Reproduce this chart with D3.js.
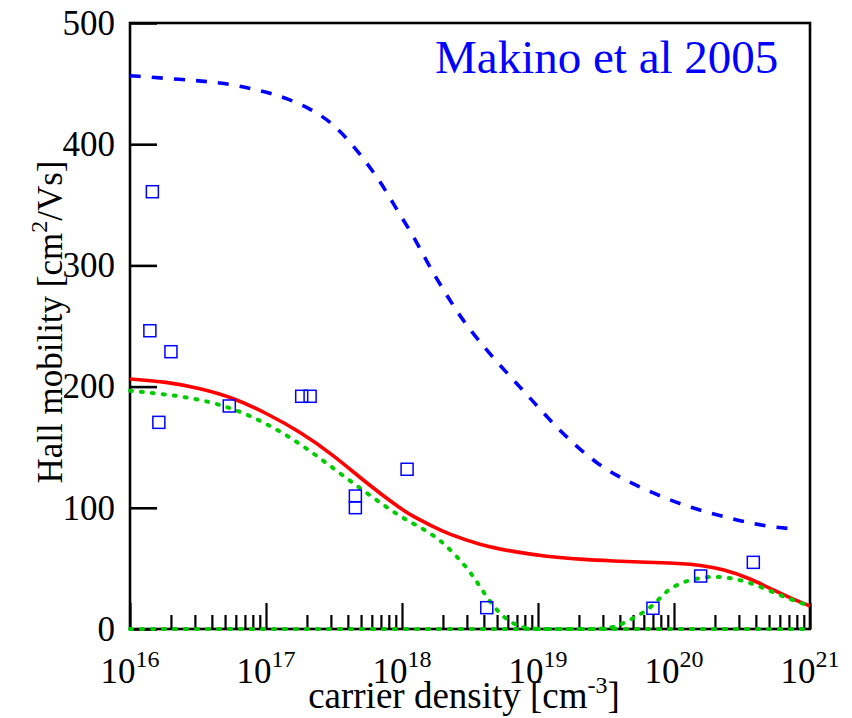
<!DOCTYPE html>
<html>
<head>
<meta charset="utf-8">
<script src="https://cdn.jsdelivr.net/npm/d3@7"></script>
<style>
  body { margin: 0; background: #fff; }
  svg text { font-family: "Liberation Serif", "Times New Roman", serif; }
</style>
</head>
<body>
<svg id="chart" width="852" height="718"></svg>
<script>
// carrier density (cm^-3) and Hall mobility (cm^2/Vs)
var blueN = [1e16, 2.33e16, 4.83e16, 7.0e16, 1.01e17, 1.42e17, 2.11e17, 3.04e17, 4.27e17, 5.82e17,
    7.5e17, 9.14e17, 1.15e18, 1.40e18, 1.70e18, 2.13e18, 2.67e18, 3.54e18, 4.83e18, 6.78e18,
    9.25e18, 1.30e19, 1.87e19, 2.70e19, 3.89e19, 5.62e19, 8.13e19, 1.17e20, 1.69e20, 2.44e20,
    3.52e20, 5.08e20, 8.02e20];
var blueMu = [456.5, 453.5, 450.7, 447, 443, 438, 429.5, 418, 400.5, 381,
    363, 346, 328.5, 311, 293.5, 275.6, 258, 240, 222, 204,
    187.5, 169, 151.8, 136.7, 125.7, 117, 109.2, 102.3, 96.8, 92.2,
    87.7, 84.4, 82.3];

var redN = [1e16, 1.86e16, 3.27e16, 5.76e16, 1.01e17, 1.78e17, 3.13e17, 5.5e17, 9.66e17, 1.21e18,
    1.70e18, 2.13e18, 3.75e18, 6.58e18, 1.16e19, 2.04e19, 3.58e19, 6.30e19, 1.11e20, 1.55e20,
    2.31e20, 3.62e20, 5.37e20, 7.54e20, 1e21];
var redMu = [206.3, 204, 198.6, 190.8, 178, 162.8, 143.6, 120.2, 99.6, 92.7,
    84.4, 79, 69.3, 63.8, 59.7, 57.5, 56.1, 55, 54.2, 52.8,
    49.3, 41.8, 32.2, 24.5, 19];

var greenN = [1e16, 1.86e16, 3.27e16, 5.76e16, 1.01e17, 1.78e17, 3.13e17, 5.5e17, 9.66e17, 1.21e18,
    1.70e18, 2.13e18, 2.99e18, 3.75e18, 4.69e18, 5.89e18, 7.38e18, 9.25e18, 1.5e19, 2.2e19,
    3.2e19, 4.01e19, 5.32e19, 7.05e19, 8.84e19, 1.17e20, 1.55e20, 2.06e20, 2.73e20, 3.62e20,
    4.81e20, 6.37e20, 8.43e20, 1e21];
var greenMu = [196.6, 193.6, 189.5, 182, 169.7, 153.2, 132.6, 112, 92.7, 87.2,
    77.6, 68.5, 51.4, 34.9, 18.4, 7.4, 1.4, 0, 0, 0,
    0, 3.3, 10.2, 19, 32.2, 39, 42.3, 43.5, 41.8, 38.2,
    32.8, 26.7, 21.7, 19];

var baseN = [1e16, 1e21];
var baseMu = [0, 0];

// Makino et al 2005 measurements
var dataN = [1.46e16, 1.40e16, 2.0e16, 1.63e16, 5.37e16, 1.83e17, 2.11e17, 4.54e17, 4.54e17, 1.09e18,
    4.2e18, 7.0e19, 1.57e20, 3.83e20];
var dataMu = [360.8, 246.1, 228.8, 170.5, 184, 192, 192, 109.7, 100.1, 131.8,
    17.6, 17.1, 43.7, 55];

var decades = [16, 17, 18, 19, 20, 21];
var yTicks = [0, 100, 200, 300, 400, 500];

var svg = d3.select("#chart");
var mLeft = 130, mTop = 23, plotW = 680, plotH = 606;

var x = d3.scaleLog().domain([1e16, 1e21]).range([mLeft, mLeft + plotW]);
var y = d3.scaleLinear().domain([0, 500]).range([mTop + plotH, mTop]);

function zip(a, b) {
    return a.map(function(d, i) { return [d, b[i]]; });
}

var line = d3.line()
    .x(function(d) { return x(d[0]); })
    .y(function(d) { return y(d[1]); })
    .curve(d3.curveBasis);

// minor + major ticks along x
var xTicks = [];
for (var e = 16; e < 21; e++) {
    for (var k = 1; k <= 9; k++) xTicks.push(k * Math.pow(10, e));
}
xTicks.push(1e21);

// frame
svg.append("rect")
    .attr("x", mLeft).attr("y", mTop)
    .attr("width", plotW).attr("height", plotH)
    .attr("fill", "none")
    .attr("stroke", "#000")
    .attr("stroke-width", 2.6);

var gx = svg.append("g")
    .attr("transform", "translate(0," + (mTop + plotH) + ")")
    .call(d3.axisBottom(x).tickValues(xTicks).tickSize(-14).tickFormat(""));
gx.select(".domain").remove();
gx.selectAll(".tick line")
    .attr("stroke-width", 2.2)
    .attr("y2", function(d) {
        var l = Math.log10(d);
        return Math.abs(l - Math.round(l)) < 1e-9 ? -26 : -14;
    });

var gy = svg.append("g")
    .attr("transform", "translate(" + mLeft + ",0)")
    .call(d3.axisLeft(y).tickValues(yTicks).tickSize(-27).tickPadding(15));
gy.select(".domain").remove();
gy.selectAll(".tick line").attr("stroke-width", 2.6);
gy.selectAll(".tick text")
    .attr("font-size", 35)
    .attr("fill", "#000")
    .attr("font-family", "Liberation Serif, serif");

// x tick labels 10^n
var xl = svg.append("g");
decades.forEach(function(e) {
    var t = xl.append("text")
        .attr("x", x(Math.pow(10, e)))
        .attr("y", 683)
        .attr("text-anchor", "middle")
        .attr("font-size", 35);
    t.append("tspan").text("10");
    t.append("tspan").attr("font-size", 24).attr("dy", -16).text(String(e));
});

// curves
svg.append("path")
    .datum(zip(blueN, blueMu))
    .attr("d", line)
    .attr("fill", "none")
    .attr("stroke", "#0000ff")
    .attr("stroke-width", 3.6)
    .attr("stroke-dasharray", "11,11");

svg.append("path")
    .datum(zip(redN, redMu))
    .attr("d", line)
    .attr("fill", "none")
    .attr("stroke", "#ff0000")
    .attr("stroke-width", 3.6);

svg.append("path")
    .datum(zip(greenN, greenMu))
    .attr("d", line)
    .attr("fill", "none")
    .attr("stroke", "#00cc00")
    .attr("stroke-width", 4)
    .attr("stroke-linecap", "round")
    .attr("stroke-dasharray", "2,9");

svg.append("path")
    .datum(zip(baseN, baseMu))
    .attr("d", line)
    .attr("fill", "none")
    .attr("stroke", "#00cc00")
    .attr("stroke-width", 4)
    .attr("stroke-linecap", "round")
    .attr("stroke-dasharray", "2,9");

// measured points
var sq = 12;
svg.append("g").selectAll("rect")
    .data(zip(dataN, dataMu))
    .enter().append("rect")
    .attr("x", function(d) { return x(d[0]) - sq / 2; })
    .attr("y", function(d) { return y(d[1]) - sq / 2; })
    .attr("width", sq)
    .attr("height", sq)
    .attr("fill", "none")
    .attr("stroke", "#0000ff")
    .attr("stroke-width", 1.5);

// labels
svg.append("text")
    .attr("x", 435).attr("y", 73)
    .attr("font-size", 47)
    .attr("fill", "#0000ff")
    .text("Makino et al 2005");

var xt = svg.append("text")
    .attr("x", 464).attr("y", 708)
    .attr("text-anchor", "middle")
    .attr("font-size", 37);
xt.append("tspan").text("carrier density [cm");
xt.append("tspan").attr("font-size", 24).attr("dy", -15).text("-3");
xt.append("tspan").attr("dy", 15).text("]");

var yt = svg.append("text")
    .attr("transform", "translate(62,322) rotate(-90)")
    .attr("text-anchor", "middle")
    .attr("font-size", 35);
yt.append("tspan").text("Hall mobility [cm");
yt.append("tspan").attr("font-size", 24).attr("dy", -15).text("2");
yt.append("tspan").attr("dy", 15).text("/Vs]");
</script>
</body>
</html>
